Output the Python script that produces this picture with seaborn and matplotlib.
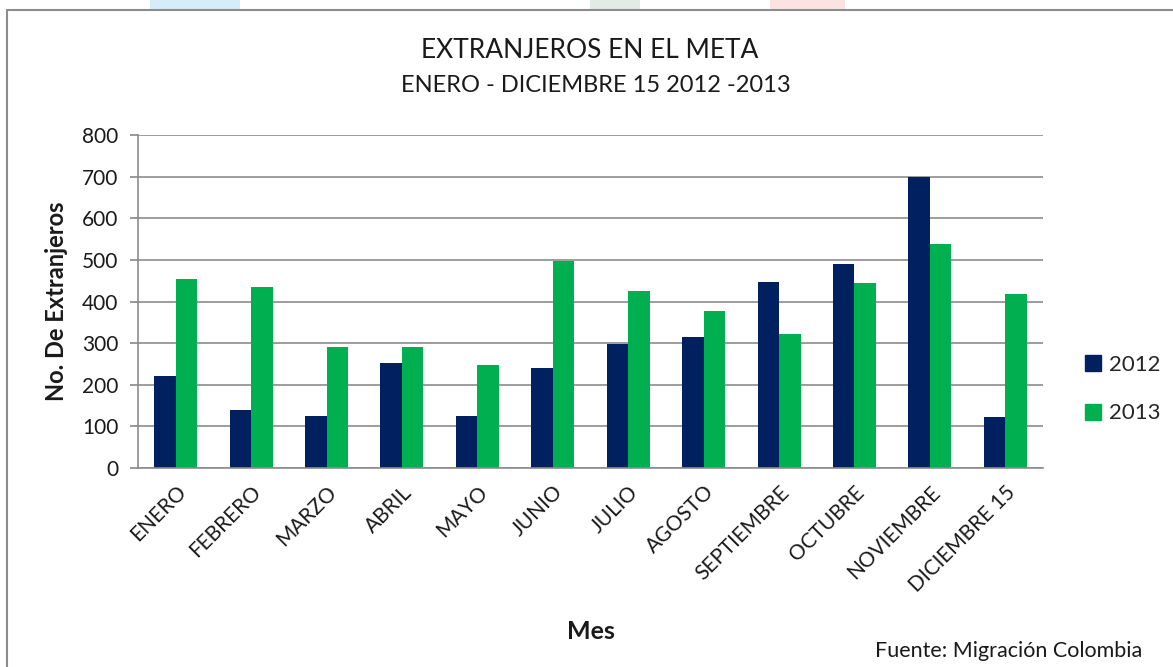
import matplotlib
matplotlib.use("Agg")
import matplotlib.pyplot as plt
import seaborn as sns
import pandas as pd
from matplotlib.patches import Rectangle
from matplotlib.lines import Line2D

months = ["ENERO", "FEBRERO", "MARZO", "ABRIL", "MAYO", "JUNIO", "JULIO",
          "AGOSTO", "SEPTIEMBRE", "OCTUBRE", "NOVIEMBRE", "DICIEMBRE 15"]
vals_2012 = [222, 139, 125, 253, 125, 241, 297, 315, 448, 490, 700, 122]
vals_2013 = [453, 435, 291, 291, 247, 497, 426, 376, 322, 444, 537, 419]
years = ["2012", "2013"]
colors = ["#002060", "#00B050"]

df = pd.DataFrame({
    "Mes": months * 2,
    "value": vals_2012 + vals_2013,
    "year": [years[0]] * len(months) + [years[1]] * len(months),
})

sns.set_theme(style="white")
plt.rcParams["font.family"] = ["Lato", "DejaVu Sans"]

fig = plt.figure(figsize=(11.73, 6.67), dpi=100)
ax = fig.add_axes([138 / 1173, 1 - 468 / 667, 905 / 1173, 333 / 667])

sns.barplot(data=df, x="Mes", y="value", hue="year", palette=colors,
            width=0.57, ax=ax, saturation=1, legend=False, linewidth=0)

ax.set_ylim(0, 800)
ax.set_yticks(range(0, 801, 100))
ax.yaxis.grid(True, color="#8c8c8c", linewidth=1.2)
ax.set_axisbelow(True)
for s in ["top", "right"]:
    ax.spines[s].set_visible(False)
ax.spines["left"].set_color("#8c8c8c")
ax.spines["bottom"].set_color("#8c8c8c")
ax.spines["left"].set_linewidth(1.2)
ax.spines["bottom"].set_linewidth(1.2)
ax.tick_params(axis="y", which="major", left=True, length=6, color="#8c8c8c",
               labelsize=15, labelcolor="#1a1a1a", pad=8)
ax.tick_params(axis="x", bottom=False, labelsize=15, labelcolor="#1a1a1a", pad=4)
plt.setp(ax.get_xticklabels(), rotation=45, ha="right", rotation_mode="anchor")

ax.set_xlabel("Mes", fontsize=18, fontweight="bold", labelpad=18, color="#1a1a1a")
ax.set_ylabel("No. De Extranjeros", fontsize=17, fontweight="bold", labelpad=10,
              color="#1a1a1a")

handles = [Line2D([0], [0], marker="s", linestyle="none", markersize=11,
                  markerfacecolor=c, markeredgecolor=c) for c in colors]
fig.legend(handles, years, loc="center left", bbox_to_anchor=(1062 / 1173, 1 - 389 / 667),
           frameon=False, fontsize=16, handletextpad=0.2, labelspacing=1.3,
           handlelength=1.0)

fig.text(590 / 1173, 1 - 50 / 667, "EXTRANJEROS EN EL META", ha="center", va="center",
         fontsize=19, color="#1a1a1a")
fig.text(596 / 1173, 1 - 86 / 667, "ENERO - DICIEMBRE 15 2012 -2013", ha="center",
         va="center", fontsize=17, color="#1a1a1a")
fig.text(1142 / 1173, 1 - 651 / 667, "Fuente: Migración Colombia", ha="right",
         va="center", fontsize=15.5, color="#1a1a1a")

# outer frame
fig.add_artist(Line2D([7 / 1173, 1.0], [1 - 9.5 / 667, 1 - 9.5 / 667],
                      transform=fig.transFigure, color="#8c8c8c", linewidth=1.5))
fig.add_artist(Line2D([7 / 1173, 7 / 1173], [0, 1 - 9.5 / 667],
                      transform=fig.transFigure, color="#8c8c8c", linewidth=1.5))

# faint decorative shapes at the top
for x0, w, c in [(150, 90, "#d6ecf8"), (590, 50, "#e3ebe6"), (770, 75, "#fbe3e3")]:
    fig.add_artist(Rectangle((x0 / 1173, 1 - 8.5 / 667), w / 1173, 8.5 / 667,
                             transform=fig.transFigure, facecolor=c, edgecolor="none"))

fig.savefig("out.png", dpi=100)
